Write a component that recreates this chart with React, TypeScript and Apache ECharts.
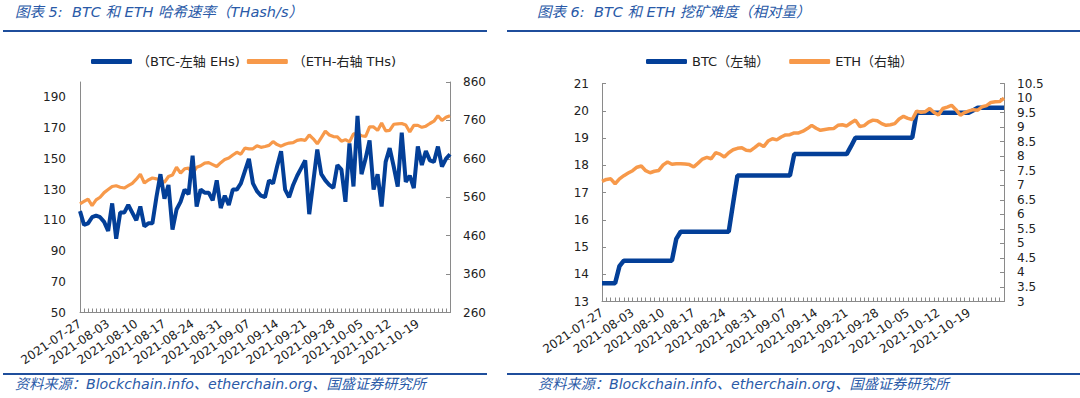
import React, { useEffect, useRef } from "react";
import * as echarts from "echarts";

// ---- categories ----
const START = Date.UTC(2021, 6, 27);
const dates: string[] = Array.from({ length: 93 }, (_, i) =>
  new Date(START + i * 86400000).toISOString().slice(0, 10)
);

// ---- Chart 5: hash rates ----
const btcHash = [
  116, 107, 108, 112, 113, 112, 109, 103, 121, 98,
  115, 115, 120, 115, 110, 119, 106, 108, 108, 125,
  140, 124, 133, 104, 117, 122, 130, 127, 152, 119,
  130, 128, 128, 123, 136, 118, 126, 120, 130, 130,
  134, 142, 150, 134, 129, 126, 125, 136, 134, 145,
  155, 130, 125, 133, 139, 144, 149, 114, 135, 156,
  140, 136, 133, 131, 146, 143, 122, 160, 132, 178,
  140, 150, 162, 130, 140, 119, 148, 157, 145, 132,
  167, 135, 139, 131, 158, 146, 155, 149, 148, 158,
  145, 150, 153,
];
const ethHash = [
  543, 549, 555, 538, 553, 560, 572, 580, 588, 590,
  586, 584, 590, 596, 607, 620, 597, 605, 610, 608,
  605, 599, 614, 618, 638, 623, 634, 636, 621, 638,
  642, 649, 650, 645, 640, 650, 658, 662, 670, 677,
  672, 688, 686, 686, 694, 690, 692, 695, 705, 697,
  693, 698, 701, 702, 708, 710, 708, 722, 712, 699,
  715, 732, 722, 718, 717, 706, 710, 704, 725, 725,
  720, 718, 743, 743, 734, 753, 733, 734, 750, 751,
  752, 748, 730, 747, 747, 742, 745, 752, 758, 772,
  760, 768, 772,
];
const hashLeftLabels = [50, 70, 90, 110, 130, 150, 170, 190];
const hashRightLabels = [260, 360, 460, 560, 660, 760, 860];

// ---- Chart 6: difficulty ----
const btcDiff = [
  13.67, 13.67, 13.67, 13.67, 14.3, 14.5, 14.5, 14.5, 14.5, 14.5,
  14.5, 14.5, 14.5, 14.5, 14.5, 14.5, 14.5, 15.3, 15.56, 15.56,
  15.56, 15.56, 15.56, 15.56, 15.56, 15.56, 15.56, 15.56, 15.56, 15.56,
  16.6, 17.62, 17.62, 17.62, 17.62, 17.62, 17.62, 17.62, 17.62, 17.62,
  17.62, 17.62, 17.62, 17.62, 18.41, 18.41, 18.41, 18.41, 18.41, 18.41,
  18.41, 18.41, 18.41, 18.41, 18.41, 18.41, 18.41, 18.7, 19.01, 19.01,
  19.01, 19.01, 19.01, 19.01, 19.01, 19.01, 19.01, 19.01, 19.01, 19.01,
  19.01, 19.01, 19.93, 19.93, 19.93, 19.93, 19.93, 19.93, 19.93, 19.93,
  19.93, 19.93, 19.93, 19.93, 19.93, 20.02, 20.11, 20.11, 20.11, 20.11,
  20.11, 20.11, 20.11,
];
const ethDiff = [
  7.13, 7.2, 7.22, 7.05, 7.22, 7.33, 7.42, 7.5, 7.62, 7.66,
  7.5, 7.43, 7.48, 7.51, 7.7, 7.8, 7.72, 7.74, 7.74, 7.73,
  7.71, 7.63, 7.76, 7.9, 7.96, 7.91, 8.12, 8.07, 7.97, 8.12,
  8.22, 8.27, 8.29, 8.2, 8.19, 8.3, 8.42, 8.33, 8.52, 8.6,
  8.56, 8.66, 8.73, 8.74, 8.8, 8.8, 8.86, 8.95, 9.06, 8.96,
  8.89, 8.92, 8.94, 8.95, 9.06, 9.08, 9.04, 9.15, 9.24, 9.02,
  9.05, 9.17, 9.24, 9.22, 9.12, 9.06, 9.08, 9.12, 9.28, 9.37,
  9.3, 9.26, 9.55, 9.51, 9.53, 9.64, 9.5, 9.42, 9.64, 9.69,
  9.75, 9.6, 9.41, 9.5, 9.56, 9.6, 9.58, 9.7, 9.74, 9.85,
  9.87, 9.88, 10.0,
];

const names = {
  btcHash: "（BTC-左轴 EHs)",
  ethHash: "（ETH-右轴 THs)",
  btcDiff: "BTC（左轴）",
  ethDiff: "ETH（右轴）",
};

const titles = [
  "图表 5:  BTC 和 ETH 哈希速率（THash/s）",
  "图表 6:  BTC 和 ETH 挖矿难度（相对量）",
];
const source = "资料来源：Blockchain.info、etherchain.org、国盛证券研究所";

const BLUE = "#033f98";
const ORANGE = "#f7994a";
const AXIS = "#8a8a8a";
const LABEL = "#222222";
const HEAD = "#2a5aa8";
const RULE = "#1f4e9c";
const FONT = "'DejaVu Sans', 'Noto Sans CJK SC', sans-serif";

function xAxisFor(gridIndex: number) {
  return {
    type: "category",
    gridIndex,
    data: dates,
    boundaryGap: false,
    axisLine: { show: true, lineStyle: { color: AXIS, width: 1 } },
    axisTick: { show: true, inside: true, length: 4, interval: 0, lineStyle: { color: AXIS } },
    axisLabel: {
      interval: (i: number) => i % 7 === 0 && i <= 84,
      rotate: 34,
      fontSize: 12,
      color: LABEL,
      fontFamily: FONT,
      margin: 10,
    },
    splitLine: { show: false },
  };
}

export default function App() {
  const ref = useRef<HTMLDivElement>(null);
  useEffect(() => {
    if (!ref.current) return;
    const chart = echarts.init(ref.current, null, { renderer: "svg" });
    const labelBase = { color: LABEL, fontSize: 12, fontFamily: FONT };
    chart.setOption({
      animation: false,
      backgroundColor: "#ffffff",
      textStyle: { fontFamily: FONT },
      grid: [
        { left: 80, top: 82, width: 370, height: 230.5 },
        { left: 602, top: 83.5, width: 402, height: 218 },
      ],
      legend: [
        {
          left: 86,
          top: 50,
          itemWidth: 41,
          itemHeight: 5,
          itemGap: 7,
          icon: "roundRect",
          textStyle: { fontSize: 13, color: LABEL, fontFamily: FONT },
          data: [names.btcHash, names.ethHash],
        },
        {
          left: 641,
          top: 50,
          itemWidth: 41,
          itemHeight: 5,
          itemGap: 20,
          icon: "roundRect",
          textStyle: { fontSize: 13, color: LABEL, fontFamily: FONT },
          data: [names.btcDiff, names.ethDiff],
        },
      ],
      xAxis: [xAxisFor(0), xAxisFor(1)],
      yAxis: [
        {
          type: "value",
          gridIndex: 0,
          position: "left",
          min: 50,
          max: 200,
          interval: 10,
          axisLine: { show: true, lineStyle: { color: AXIS } },
          axisTick: { show: false },
          splitLine: { show: false },
          axisLabel: {
            ...labelBase,
            margin: 14,
            customValues: hashLeftLabels,
            formatter: (v: number) => (hashLeftLabels.includes(v) ? String(v) : ""),
          },
        },
        {
          type: "value",
          gridIndex: 0,
          position: "right",
          min: 260,
          max: 860,
          interval: 20,
          axisLine: { show: true, lineStyle: { color: AXIS } },
          axisTick: {
            show: true,
            inside: true,
            length: 4,
            customValues: hashRightLabels,
            lineStyle: { color: AXIS },
          },
          splitLine: { show: false },
          axisLabel: {
            ...labelBase,
            margin: 13,
            customValues: hashRightLabels,
            formatter: (v: number) => (hashRightLabels.includes(v) ? String(v) : ""),
          },
        },
        {
          type: "value",
          gridIndex: 1,
          position: "left",
          min: 13,
          max: 21,
          interval: 1,
          axisLine: { show: true, lineStyle: { color: AXIS } },
          axisTick: { show: true, inside: true, length: 4, lineStyle: { color: AXIS } },
          splitLine: { show: false },
          axisLabel: { ...labelBase, margin: 13 },
        },
        {
          type: "value",
          gridIndex: 1,
          position: "right",
          min: 3,
          max: 10.5,
          interval: 0.5,
          axisLine: { show: true, lineStyle: { color: AXIS } },
          axisTick: { show: true, inside: true, length: 4, lineStyle: { color: AXIS } },
          splitLine: { show: false },
          axisLabel: { ...labelBase, margin: 13 },
        },
      ],
      series: [
        {
          name: names.ethHash,
          type: "line",
          xAxisIndex: 0,
          yAxisIndex: 1,
          data: ethHash,
          symbol: "none",
          lineStyle: { color: ORANGE, width: 3.2 },
          itemStyle: { color: ORANGE },
        },
        {
          name: names.btcHash,
          type: "line",
          xAxisIndex: 0,
          yAxisIndex: 0,
          data: btcHash,
          symbol: "none",
          lineStyle: { color: BLUE, width: 4 },
          itemStyle: { color: BLUE },
        },
        {
          name: names.btcDiff,
          type: "line",
          xAxisIndex: 1,
          yAxisIndex: 2,
          data: btcDiff,
          symbol: "none",
          lineStyle: { color: BLUE, width: 4.5 },
          itemStyle: { color: BLUE },
        },
        {
          name: names.ethDiff,
          type: "line",
          xAxisIndex: 1,
          yAxisIndex: 3,
          data: ethDiff,
          symbol: "none",
          lineStyle: { color: ORANGE, width: 3.5 },
          itemStyle: { color: ORANGE },
        },
      ],
      graphic: [
        {
          type: "text",
          left: 15,
          top: 5,
          style: { text: titles[0], fill: HEAD, font: `italic 14.5px ${FONT}` },
        },
        { type: "rect", shape: { x: 3, y: 30, width: 484, height: 2 }, style: { fill: RULE } },
        {
          type: "text",
          left: 537,
          top: 5,
          style: { text: titles[1], fill: HEAD, font: `italic 14.5px ${FONT}` },
        },
        { type: "rect", shape: { x: 507, y: 30, width: 573, height: 2 }, style: { fill: RULE } },
        { type: "rect", shape: { x: 3, y: 373, width: 484, height: 2 }, style: { fill: RULE } },
        { type: "rect", shape: { x: 507, y: 373, width: 573, height: 2 }, style: { fill: RULE } },
        {
          type: "text",
          left: 15,
          top: 377,
          style: { text: source, fill: HEAD, font: `italic 14.2px ${FONT}` },
        },
        {
          type: "text",
          left: 538,
          top: 377,
          style: { text: source, fill: HEAD, font: `italic 14.2px ${FONT}` },
        },
      ],
    });
    return () => chart.dispose();
  }, []);
  return (
    <div
      ref={ref}
      style={{ position: "absolute", left: 0, top: 0, width: 1080, height: 398, background: "#fff" }}
    />
  );
}
